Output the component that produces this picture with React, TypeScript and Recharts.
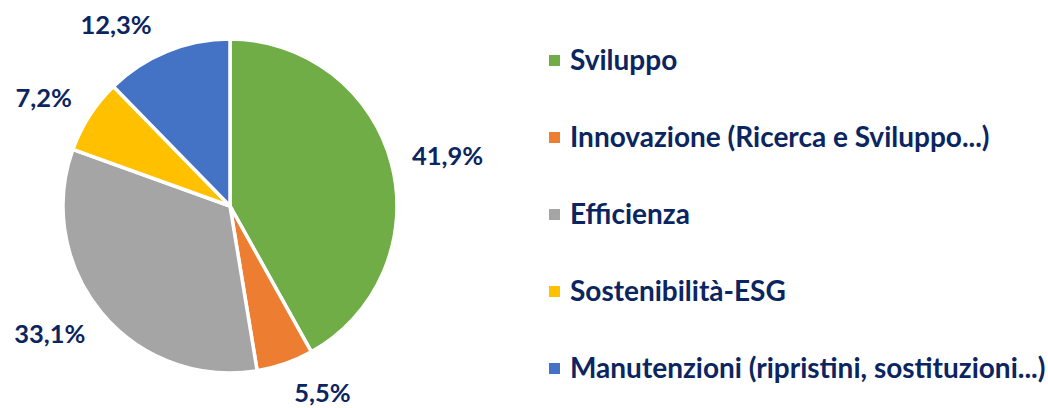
import React from "react";
import { PieChart, Pie, Cell, Legend } from "recharts";

const NAMES = [
  "Sviluppo",
  "Innovazione (Ricerca e Sviluppo...)",
  "Efficienza",
  "Sostenibilità-ESG",
  "Manutenzioni (ripristini, sostituzioni...)",
];
const SHARES = [41.9, 5.5, 33.1, 7.2, 12.3];
const COLORS = ["#70AD47", "#ED7D31", "#A5A5A5", "#FFC000", "#4472C4"];

const data = NAMES.map((name, i) => ({ name, value: SHARES[i] }));

const FONT = "Lato, 'Open Sans', sans-serif";
const WEIGHT = "bold";
const NAVY = "#0B2560";
const LABEL_SIZE = 25.5;
const LEGEND_SIZE = 28;
const LABEL_Y_MIN = 25;
const LABEL_Y_MAX = 393;
const RADIAN = Math.PI / 180;

let ctx: CanvasRenderingContext2D | null = null;
function textWidth(t: string, size: number) {
  if (!ctx) ctx = document.createElement("canvas").getContext("2d");
  if (!ctx) return t.length * size * 0.55;
  ctx.font = `${WEIGHT} ${size}px ${FONT}`;
  return ctx.measureText(t).width;
}

const fmt = (v: number) => v.toFixed(1).replace(".", ",") + "%";

// outside-end label, pushed back inside the chart area like Excel does
function renderLabel(props: any) {
  const { cx, cy, midAngle, outerRadius, value } = props;
  const text = fmt(value);
  const w = textWidth(text, LABEL_SIZE);
  const h = 22;
  const gap = 21;
  const pos = (deg: number) => {
    const c = Math.cos(deg * RADIAN);
    const s = Math.sin(deg * RADIAN);
    const d = outerRadius + gap;
    return {
      x: cx + d * c + (c >= 0 ? w / 2 : -w / 2),
      y: cy - d * s - (h / 2) * s,
      c,
    };
  };
  let a = midAngle;
  let p = pos(a);
  const step = p.c >= 0 ? (p.y > cy ? 0.25 : -0.25) : p.y > cy ? -0.25 : 0.25;
  let n = 0;
  while ((p.y < LABEL_Y_MIN || p.y > LABEL_Y_MAX) && n < 400) {
    a += step;
    p = pos(a);
    n++;
  }
  return (
    <text
      x={p.x}
      y={p.y + LABEL_SIZE * 0.36}
      textAnchor="middle"
      fill={NAVY}
      fontFamily={FONT}
      fontWeight={WEIGHT}
      fontSize={LABEL_SIZE}
    >
      {text}
    </text>
  );
}

function LegendList() {
  return (
    <div>
      {data.map((d, i) => (
        <div
          key={d.name}
          style={{
            display: "flex",
            alignItems: "center",
            height: 76.8,
            fontFamily: FONT,
            fontWeight: WEIGHT,
            fontSize: LEGEND_SIZE,
            color: NAVY,
            whiteSpace: "nowrap",
          }}
        >
          <span
            style={{
              display: "inline-block",
              width: 11,
              height: 11,
              background: COLORS[i],
              marginRight: 10,
              marginTop: 3,
            }}
          />
          {d.name}
        </div>
      ))}
    </div>
  );
}

export default function App() {
  return (
    <div style={{ position: "absolute", left: 0, top: 0, width: 1048, height: 408, background: "#fff" }}>
      <PieChart width={1048} height={408} margin={{ top: 0, right: 0, bottom: 0, left: 0 }}>
        <Pie
          data={data}
          dataKey="value"
          nameKey="name"
          cx={230}
          cy={206}
          outerRadius={167}
          startAngle={90}
          endAngle={-270}
          stroke="#ffffff"
          strokeWidth={3.5}
          label={renderLabel}
          labelLine={false}
          isAnimationActive={false}
        >
          {data.map((d, i) => (
            <Cell key={d.name} fill={COLORS[i]} />
          ))}
        </Pie>
        <Legend
          layout="vertical"
          align="right"
          verticalAlign="top"
          content={<LegendList />}
          wrapperStyle={{ left: 549, top: 21, width: 499 }}
        />
      </PieChart>
    </div>
  );
}
